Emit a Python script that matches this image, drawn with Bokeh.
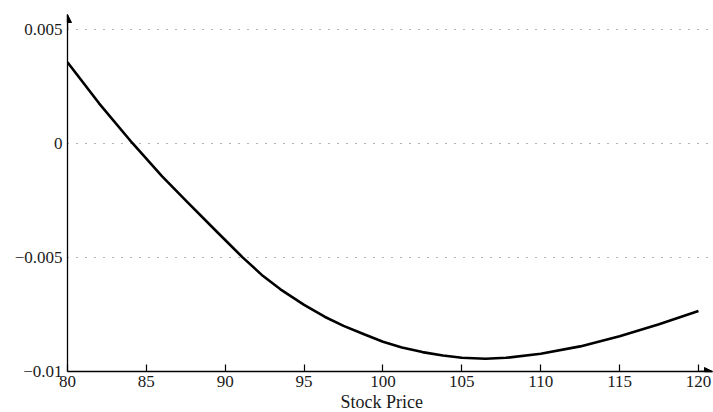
from bokeh.plotting import figure
from bokeh.models import FixedTicker, Range1d, Arrow, NormalHead, Title
from bokeh.embed import file_html
from bokeh.resources import INLINE

# Data
stock_price = [80, 82, 84.12, 86, 87.6, 89.5, 91.1, 92.4, 93.5, 95, 96.3, 97.5, 98.8,
               100, 101.2, 102.5, 103.8, 105, 106.5, 107.8, 110, 112.5, 115, 117.5, 120]
value = [0.00355, 0.00175, 0.0, -0.00145, -0.00258, -0.0039, -0.005, -0.00582, -0.0064,
         -0.00708, -0.0076, -0.008, -0.00837, -0.0087, -0.00895, -0.00915, -0.0093,
         -0.0094, -0.00944, -0.0094, -0.00922, -0.0089, -0.00846, -0.00793, -0.00735]
x_ticks = [80, 85, 90, 95, 100, 105, 110, 115, 120]
y_ticks = [-0.01, -0.005, 0, 0.005]
y_tick_labels = {-0.01: "\u22120.01", -0.005: "\u22120.005", 0: "0", 0.005: "0.005"}
x_label = "Stock Price"

FONT = "Liberation Serif"
x_min, x_max = 80, 120.89
y_min, y_max = -0.01, 0.00564

p = figure(width=713, height=412, output_backend="svg", toolbar_location=None,
           x_range=Range1d(x_min, x_max), y_range=Range1d(y_min, y_max),
           min_border_left=67, min_border_right=1, min_border_top=14, min_border_bottom=41)
p.outline_line_color = None
p.background_fill_color = "white"

p.xaxis.ticker = FixedTicker(ticks=x_ticks)
p.yaxis.ticker = FixedTicker(ticks=y_ticks)
p.yaxis.major_label_overrides = y_tick_labels

for ax in (p.xaxis, p.yaxis):
    ax.axis_line_color = "black"
    ax.axis_line_width = 1.3
    ax.major_label_text_font = FONT
    ax.major_label_text_font_size = "17px"
    ax.major_label_text_color = "#1a1a1a"
    ax.minor_tick_line_color = None

p.xaxis.major_tick_in = 7
p.xaxis.major_tick_out = 0
p.xaxis.major_tick_line_color = "black"
p.xaxis.major_tick_line_width = 1.2
p.xaxis.major_label_standoff = 4

p.yaxis.major_tick_in = 0
p.yaxis.major_tick_out = 0
p.yaxis.major_label_standoff = 5

# axis title placed under the 80..120 span, as in the reference
p.add_layout(Title(text=x_label, align="left", offset=273, standoff=0,
                   text_font=FONT, text_font_style="normal", text_font_size="18px",
                   text_color="#1a1a1a"), "below")

p.xgrid.grid_line_color = None
p.ygrid.ticker = FixedTicker(ticks=[t for t in y_ticks if t > y_min])
p.ygrid.grid_line_color = "#666666"
p.ygrid.grid_line_dash = "1 8"
p.ygrid.grid_line_width = 1

p.line(stock_price, value, line_color="black", line_width=2.6, line_join="round")

p.add_layout(Arrow(end=NormalHead(size=8, fill_color="black", line_color="black"),
                   x_start=x_ticks[-1], y_start=y_min, x_end=x_max, y_end=y_min,
                   line_color="black", line_width=1.3))
p.add_layout(Arrow(end=NormalHead(size=8, fill_color="black", line_color="black"),
                   x_start=x_min, y_start=y_ticks[-1], x_end=x_min, y_end=y_max,
                   line_color="black", line_width=1.3))

open("out.html", "w").write(file_html(p, INLINE))
